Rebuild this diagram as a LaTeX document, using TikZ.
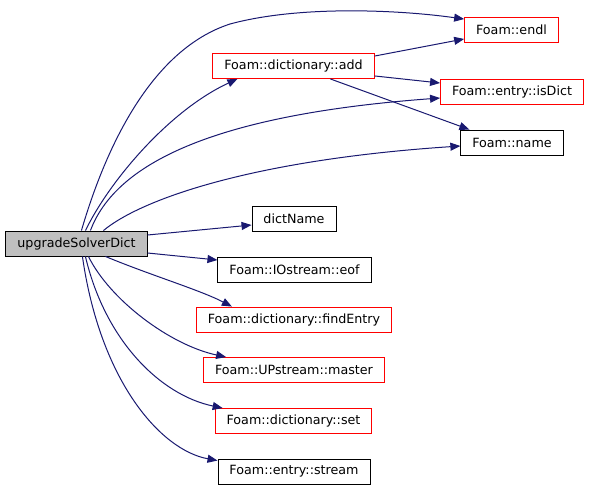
\documentclass[tikz,border=0pt]{standalone}
\usepackage{fontspec}
\setmainfont{DejaVu Sans}
\usepackage{tikz}
\usetikzlibrary{arrows.meta}
\definecolor{edgeblue}{HTML}{191970}
\definecolor{rootgrey}{HTML}{BFBFBF}

\begin{document}
\begin{tikzpicture}[x=1pt, y=-1pt,
  fnBox/.style ={rectangle, draw=black, fill=white, line width=0.9pt, inner xsep=11.5pt, inner ysep=0pt, minimum height=25pt, font=\fontsize{12.7}{15}\selectfont},
  fnRed/.style ={fnBox, draw=red},
  fnRoot/.style={fnBox, fill=rootgrey},
  callEdge/.style={draw=edgeblue, line width=1pt, -{Triangle[length=10pt, width=8pt]}},
]
\useasboundingbox (0,0) rectangle (589,491);

% caller
\node[fnRoot] (nSolver) at (76.5,243.5) {upgradeSolverDict};

% callees
\node[fnRed] (nAdd)    at (293.5,66)  {Foam::dictionary::add};
\node[fnRed] (nEndl)   at (511.5,30)  {Foam::endl};
\node[fnRed] (nIsDict) at (512,91.5)  {Foam::entry::isDict};
\node[fnBox] (nName)   at (512,142.5) {Foam::name};
\node[fnBox] (nDictName)  at (294,218.5)   {dictName};
\node[fnBox] (nEof)       at (294.5,269.5) {Foam::IOstream::eof};
\node[fnRed] (nFindEntry) at (294,319.5)   {Foam::dictionary::findEntry};
\node[fnRed] (nMaster)    at (294,370)     {Foam::UPstream::master};
\node[fnRed] (nSet)       at (293.5,421)   {Foam::dictionary::set};
\node[fnBox] (nStream)    at (294,471.5)   {Foam::entry::stream};

% calls leaving the top of the caller
\draw[callEdge] ([xshift=76pt]nSolver.north west) .. controls (105,150) and (150,50) .. (230,24)
  .. controls (300,5) and (400,10) .. ([yshift=-2pt]nEndl.north west);
\draw[callEdge] ([xshift=80pt]nSolver.north west) .. controls (110,180) and (170,110) .. ([xshift=25pt]nAdd.south west);
\draw[callEdge] ([xshift=85pt]nSolver.north west) .. controls (115,165) and (210,115) .. ([yshift=-6.5pt]nIsDict.west);
\draw[callEdge] ([xshift=98pt]nSolver.north west) .. controls (140,200) and (250,160) .. ([yshift=-3.5pt]nName.west);

% calls leaving the side
\draw[callEdge] ([yshift=8.5pt]nSolver.east) -- ([yshift=-6.5pt]nDictName.west);
\draw[callEdge] ([yshift=-9.5pt]nSolver.east) -- ([yshift=9.5pt]nEof.west);

% calls leaving the bottom
\draw[callEdge] ([xshift=100pt]nSolver.south west) .. controls (150,275) and (200,290) .. ([xshift=36pt]nFindEntry.north west);
\draw[callEdge] ([xshift=83pt]nSolver.south west) .. controls (110,300) and (170,345) .. ([xshift=23pt]nMaster.north west);
\draw[callEdge] ([xshift=80pt]nSolver.south west) .. controls (105,340) and (160,395) .. ([xshift=8pt]nSet.north west);
\draw[callEdge] ([xshift=77pt]nSolver.south west) .. controls (100,380) and (160,450) .. ([yshift=-2pt]nStream.north west);

% calls made by dictionary::add
\draw[callEdge] ([yshift=-3pt]nAdd.north east) -- ([yshift=4pt]nEndl.south west);
\draw[callEdge] ([yshift=3pt]nAdd.south east) -- ([yshift=8.5pt]nIsDict.west);
\draw[callEdge] ([xshift=118pt]nAdd.south west) -- ([xshift=9pt]nName.north west);
\end{tikzpicture}
\end{document}
